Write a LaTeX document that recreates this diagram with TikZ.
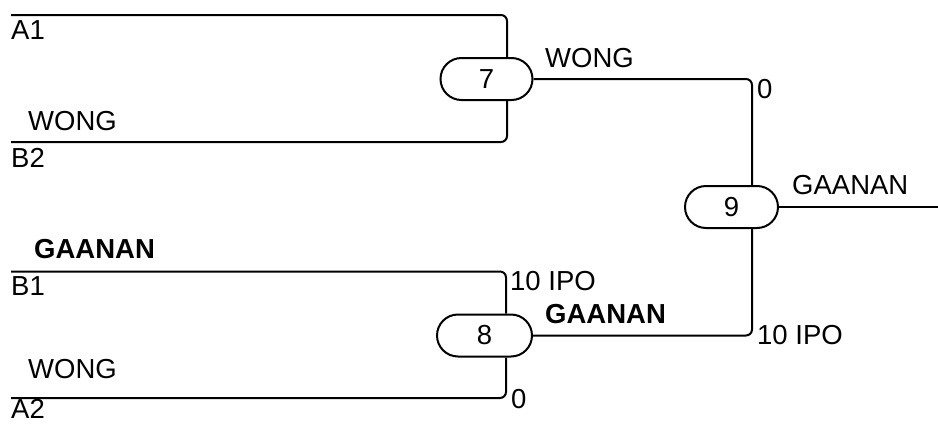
\documentclass[tikz,border=0pt]{standalone}
\usepackage{fontspec}
\setmainfont{Liberation Sans}
\usetikzlibrary{backgrounds}
\begin{document}
\begin{tikzpicture}[x=1pt,y=-1pt,
  every node/.style={font=\fontsize{27.5}{32}\selectfont},
  line/.style={line width=2pt,rounded corners=6pt},
  game/.style={draw,line width=2pt,fill=white,rounded corners=21pt,minimum height=42pt,inner sep=0pt},
  lbl/.style={anchor=base west,inner sep=0pt},
  blbl/.style={anchor=base west,inner sep=0pt,font=\fontsize{27.5}{32}\selectfont\bfseries}]
\useasboundingbox (0,0) rectangle (938,426);
\node[game,minimum width=92pt] (n7) at (486.5,79) {7};
\node[game,minimum width=95pt] (n8) at (484.5,335.5) {8};
\node[game,minimum width=93pt] (n9) at (731.5,207) {9};
\coordinate (a1) at (11,15);
\coordinate (b2) at (11,142);
\coordinate (b1) at (11,271.5);
\coordinate (a2) at (11,398);
\coordinate (out) at (938,207);
\begin{pgfonlayer}{background}
\draw[line] (a1) -| ([xshift=20.5pt]n7.north);
\draw[line] (b2) -| ([xshift=20.5pt]n7.south);
\draw[line] (b1) -| ([xshift=21.5pt]n8.north);
\draw[line] (a2) -| ([xshift=21.5pt]n8.south);
\draw[line] (n7.east) -| ([xshift=20.5pt]n9.north);
\draw[line] (n8.east) -| ([xshift=20.5pt]n9.south);
\draw[line] (n9.east) -- (out);
\end{pgfonlayer}
\node[lbl] (la1) at (11,39) {A1};
\node[lbl] (lw1) at (28,130) {WONG};
\node[lbl] (lb2) at (11,167) {B2};
\node[blbl] (lg1) at (34,258) {GAANAN};
\node[lbl] (lb1) at (11,295) {B1};
\node[lbl] (lw2) at (28,378) {WONG};
\node[lbl] (la2) at (11,418) {A2};
\node[lbl] (lw7) at (545,67) {WONG};
\node[lbl] (ls70) at (757,98) {0};
\node[lbl] (lg9) at (792,194) {GAANAN};
\node[lbl] (ls81) at (510,290) {10 IPO};
\node[blbl] (lg8) at (545,323) {GAANAN};
\node[lbl] (ls82) at (511,408) {0};
\node[lbl] (ls9) at (757,344) {10 IPO};
\end{tikzpicture}
\end{document}
